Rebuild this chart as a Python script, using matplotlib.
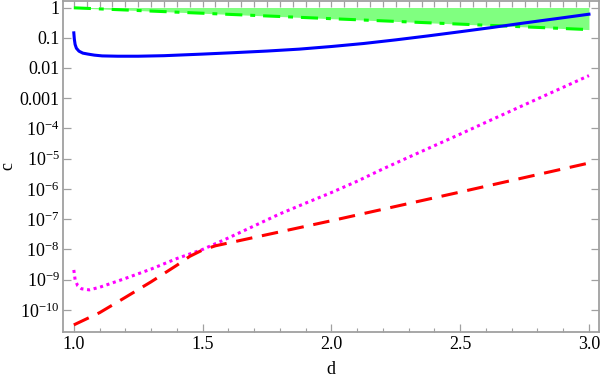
import numpy as np
import matplotlib
matplotlib.use("Agg")
import matplotlib.pyplot as plt

plt.rcParams['font.family'] = ['Liberation Serif', 'DejaVu Serif']
plt.rcParams['mathtext.fontset'] = 'custom'
plt.rcParams['mathtext.rm'] = 'Liberation Serif'
plt.rcParams['mathtext.it'] = 'Liberation Serif:italic'

# ---- data ----
blue_d = [1.0, 1.002, 1.005, 1.01, 1.02, 1.035, 1.055, 1.08, 1.11, 1.17, 1.25, 1.35,
          1.5, 1.625, 1.75, 1.875, 2.0, 2.125, 2.25, 2.375, 2.5, 2.625, 2.75, 2.875, 3.0]
blue_c = [0.145, 0.09, 0.06, 0.045, 0.036, 0.031, 0.0288, 0.0266, 0.0251, 0.0245, 0.0245,
          0.0255, 0.0288, 0.0322, 0.0363, 0.0420, 0.0513, 0.0645, 0.0851, 0.115, 0.158,
          0.219, 0.309, 0.430, 0.60]

green_d = [1.0, 1.5, 2.0, 2.5, 3.0]
green_c = [0.977, 0.646, 0.427, 0.282, 0.186]
green_top = [1.0, 1.0, 1.0, 1.0, 1.0]

mag_d = [1.0, 1.005, 1.015, 1.03, 1.06, 1.1, 1.2, 1.3, 1.4, 1.5, 1.6, 1.7, 1.8, 1.9,
         2.0, 2.1, 2.2, 2.3, 2.4, 2.5, 2.6, 2.7, 2.8, 2.9, 3.0]
mag_c = [2.1e-9, 1.0e-9, 6.3e-10, 5.0e-10, 4.6e-10, 5.6e-10, 1.1e-9, 2.24e-9, 5.0e-9, 1.0e-8,
         2.4e-8, 6.0e-8, 1.5e-7, 3.4e-7, 7.6e-7, 1.8e-6, 4.6e-6, 1.12e-5, 2.7e-5, 6.5e-5,
         1.6e-4, 3.9e-4, 9.5e-4, 2.3e-3, 5.6e-3]

red_d = [1.0, 1.1, 1.2, 1.3, 1.4, 1.45, 1.5, 1.55, 2.0, 2.5, 3.0]
red_c = [3.2e-11, 8.1e-11, 2.6e-10, 8.5e-10, 3.0e-9, 5.9e-9, 9.6e-9, 1.32e-8, 8.9e-8,
         7.9e-7, 7.2e-6]

ytick_vals = [1, 0.1, 0.01, 0.001, 1e-4, 1e-5, 1e-6, 1e-7, 1e-8, 1e-9, 1e-10]
ytick_labels = ['1', '0.1', '0.01', '0.001', r'$10^{-4}$', r'$10^{-5}$', r'$10^{-6}$',
                r'$10^{-7}$', r'$10^{-8}$', r'$10^{-9}$', r'$10^{-10}$']
xtick_vals = [1.0, 1.5, 2.0, 2.5, 3.0]
xtick_labels = ['1.0', '1.5', '2.0', '2.5', '3.0']

# ---- figure ----
fig = plt.figure(figsize=(6.0, 3.81), dpi=100)
ax = fig.add_axes([63/600, 49/381, (599-63)/600, (332-1)/381])

gray = '#a0a0a0'
lw = 2.2

ax.fill_between(green_d, green_c, green_top, color='#80ff80', lw=0, zorder=1)
ax.plot(green_d, green_c, color='#00ff00', lw=lw, dashes=(5.6, 2.6, 1.6, 2.6),
        dash_capstyle='butt', zorder=3)
ax.plot(blue_d, blue_c, color='#0000ff', lw=lw, zorder=4, solid_joinstyle='round')
ax.plot(mag_d, mag_c, color='#ff00ff', lw=lw, dashes=(1.0, 1.2), dash_capstyle='butt', zorder=3)
ax.plot(red_d, red_c, color='#ff0000', lw=lw, dashes=(5.4, 3.2), dash_capstyle='butt', zorder=3)

ax.set_yscale('log')
ax.set_xlim(0.958, 3.039)
ax.set_ylim(10**-10.73, 10**0.215)

ax.set_yticks(ytick_vals)
ax.set_yticklabels(ytick_labels)
ax.yaxis.set_minor_locator(matplotlib.ticker.NullLocator())
ax.set_xticks(xtick_vals)
ax.set_xticklabels(xtick_labels)
ax.set_xticks(np.arange(1.0, 3.001, 0.1), minor=True)

for s in ax.spines.values():
    s.set_color(gray)
    s.set_linewidth(1.3)
ax.spines['top'].set_visible(False)

ax.tick_params(axis='both', which='major', direction='in', length=5.5, width=0.9,
               color=gray, labelsize=13, labelcolor='black')
ax.tick_params(axis='y', which='major', pad=2.5)
ax.tick_params(axis='x', which='major', pad=3)
ax.tick_params(axis='x', which='minor', direction='in', length=3, width=0.8, color=gray)
ax.tick_params(axis='y', which='both', right=True)
ax.tick_params(axis='x', which='both', top=False)

top = ax.secondary_xaxis('top')
top.set_xticks(np.arange(1.0, 3.001, 0.05))
top.set_xticklabels([])
top.tick_params(direction='in', length=4.5, width=0.9, color=gray)
top.spines['top'].set_color(gray)
top.spines['top'].set_linewidth(1.3)

ax.set_xlabel('d', fontsize=13, labelpad=6)
ax.set_ylabel('c', fontsize=13, labelpad=2)

fig.savefig('out.png', dpi=100)
